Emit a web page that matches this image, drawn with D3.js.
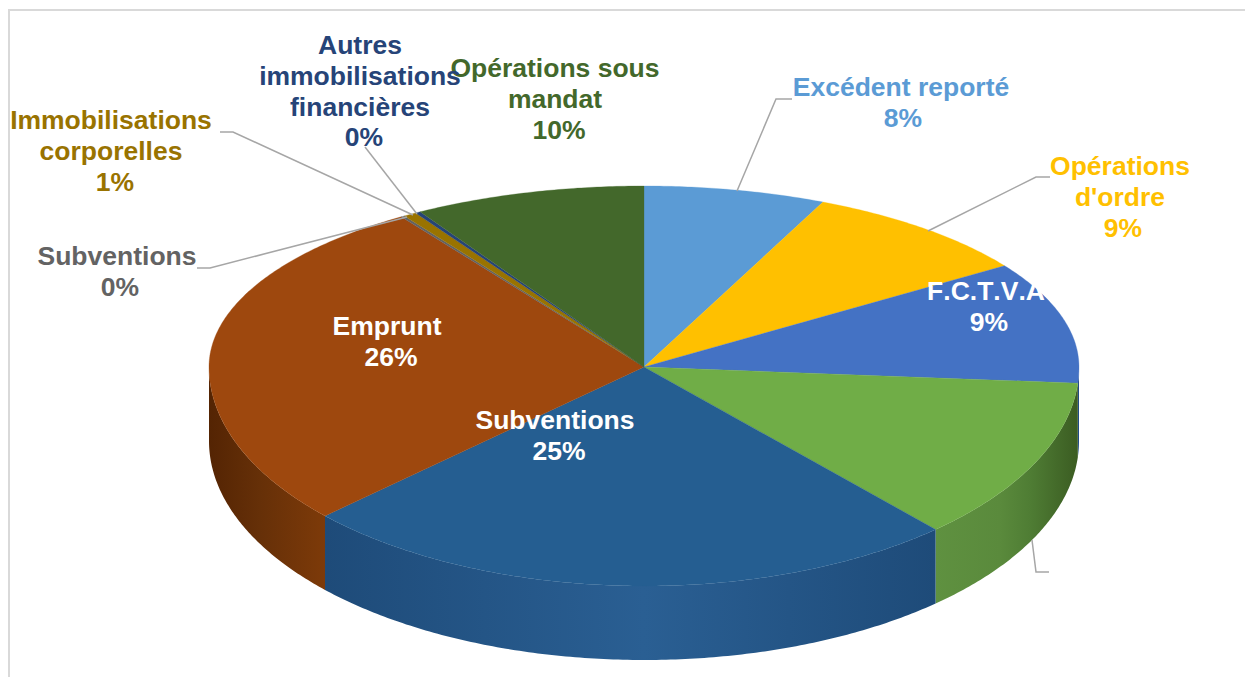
<!DOCTYPE html>
<meta charset="utf-8">
<style>
html, body { margin: 0; padding: 0; background: #fff; }
svg { display: block; }
text { font-family: "Liberation Sans", Arial, sans-serif; font-weight: bold; font-size: 26.5px; text-anchor: middle; font-kerning: none; }
</style>
<body>
<svg width="1245" height="677"></svg>
<script src="https://d3js.org/d3.v7.min.js"></script>
<script>

// shares as they are drawn on the pie (the printed labels are rounded by the source)
var categories = ["Excédent reporté", "Opérations d'ordre", "F.C.T.V.A", "Immobilisations incorporelles", "Subventions", "Emprunt", "Subventions", "Immobilisations corporelles", "Autres immobilisations financières", "Opérations sous mandat"];
var shares = [7.3, 8.9, 10.1, 12.8, 23.2, 27.6, 0.15, 0.5, 0.2, 9.25];
var printed = ["8%", "9%", "9%", "", "25%", "26%", "0%", "1%", "0%", "10%"];
var colors = ["#5b9bd5", "#ffc000", "#4472c4", "#70ad47", "#255e91", "#9e480e", "#636363", "#997300", "#264478", "#43682b"];

// wall shading: [x, colour] stops, only slices that show a side
var wallStops = {
  2: [[1070, "#2f5a9e"], [1079, "#1f4a85"]],
  3: [[935, "#5f9140"], [1000, "#5a8a3c"], [1030, "#4f7d34"], [1078, "#3b5c22"]],
  4: [[325, "#1e4b79"], [644, "#2a5f93"], [935, "#1e4b79"]],
  5: [[209, "#542403"], [260, "#663008"], [325, "#7d3a09"]]
};

// label layout
var labelText = [
  {i: 0, lines: ["Excédent reporté", "8%"], x: [901, 903], y: 96},
  {i: 1, lines: ["Opérations", "d'ordre", "9%"], x: [1120, 1120, 1123], y: 175},
  {i: 9, lines: ["Opérations sous", "mandat", "10%"], x: [555, 555, 559], y: 77},
  {i: 8, lines: ["Autres", "immobilisations", "financières", "0%"], x: [360, 360, 360, 364], y: 54},
  {i: 7, lines: ["Immobilisations", "corporelles", "1%"], x: [111, 111, 115], y: 129},
  {i: 6, lines: ["Subventions", "0%"], x: [117, 120], y: 265},
  {i: 2, lines: ["F.C.T.V.A", "9%"], x: [986, 989], y: 300, fill: "#fff"},
  {i: 5, lines: ["Emprunt", "26%"], x: [387, 391], y: 335, fill: "#fff"},
  {i: 4, lines: ["Subventions", "25%"], x: [555, 559], y: 429, fill: "#fff"}
];

var leaders = [
  [[737, 191], [776, 99], [792, 99]],
  [[928, 231], [1036, 177], [1050, 177]],
  [[1032, 540], [1036, 572], [1049, 572]],
  [[220, 132], [233, 132], [413, 215]],
  [[197, 268], [210, 268], [407, 217]],
  [[365, 147], [417, 214]]
];

var svg = d3.select("svg");

var hubX = 644, hubY = 367, depth = 74;
var radX = 435, radBack = 181, radFront = 219, tilt = 198;

// angle -> screen, hub sits above the middle so back and front have their own radius
function project(a) {
  var dx = Math.sin(a), dy = -Math.cos(a) * tilt;
  var ry = dy < 0 ? radBack : radFront;
  var u = dx, v = dy / ry, n = Math.sqrt(u * u + v * v);
  return [hubX + radX * u / n, hubY + ry * v / n];
}

var pie = d3.pie().sort(null).value(function(d){ return d; });
var slices = pie(shares);

var line = d3.line();
var defs = svg.append("defs");

function rim(start, end) {
  var n = Math.max(2, Math.ceil((end - start) / 0.01));
  return d3.range(n + 1).map(function(k){
    return project(start + (end - start) * k / n);
  });
}

// frame
svg.append("path")
  .attr("d", "M9,677V10H1245")
  .attr("fill", "none")
  .attr("stroke", "#d9d9d9")
  .attr("stroke-width", 2);

// walls, only the front half of the rim shows
Object.keys(wallStops).forEach(function(k){
  var x0 = wallStops[k][0][0], x1 = wallStops[k][wallStops[k].length - 1][0];
  var g = defs.append("linearGradient")
    .attr("id", "wall" + k)
    .attr("gradientUnits", "userSpaceOnUse")
    .attr("x1", x0).attr("x2", x1)
    .attr("y1", 0).attr("y2", 0);
  wallStops[k].forEach(function(s){
    g.append("stop").attr("offset", (s[0] - x0) / (x1 - x0)).attr("stop-color", s[1]);
  });
  var top = rim(Math.max(slices[+k].startAngle, Math.PI / 2), Math.min(slices[+k].endAngle, Math.PI * 1.5));
  var bottom = top.map(function(p){ return [p[0], p[1] + depth]; }).reverse();
  svg.append("path")
    .attr("d", line(top.concat(bottom)) + "Z")
    .attr("fill", "url(#wall" + k + ")");
});

// top face
svg.append("g").selectAll("path")
  .data(slices)
  .enter().append("path")
  .attr("d", function(d){ return line([[hubX, hubY]].concat(rim(d.startAngle, d.endAngle))) + "Z"; })
  .attr("fill", function(d, i){ return colors[i]; })
  .attr("stroke", function(d, i){ return colors[i]; })
  .attr("stroke-width", 0.3);

// leader lines
svg.append("g").selectAll("path")
  .data(leaders)
  .enter().append("path")
  .attr("d", function(d){ return line(d); })
  .attr("fill", "none")
  .attr("stroke", "#a6a6a6")
  .attr("stroke-width", 1.5);

// labels
labelText.forEach(function(l){
  svg.append("g").selectAll("text")
    .data(l.lines)
    .enter().append("text")
    .attr("x", function(d, j){ return l.x[j]; })
    .attr("y", function(d, j){ return l.y + j * 30.8; })
    .attr("fill", l.fill || colors[l.i])
    .text(function(d){ return d; });
});

</script>
</body>
</html>
